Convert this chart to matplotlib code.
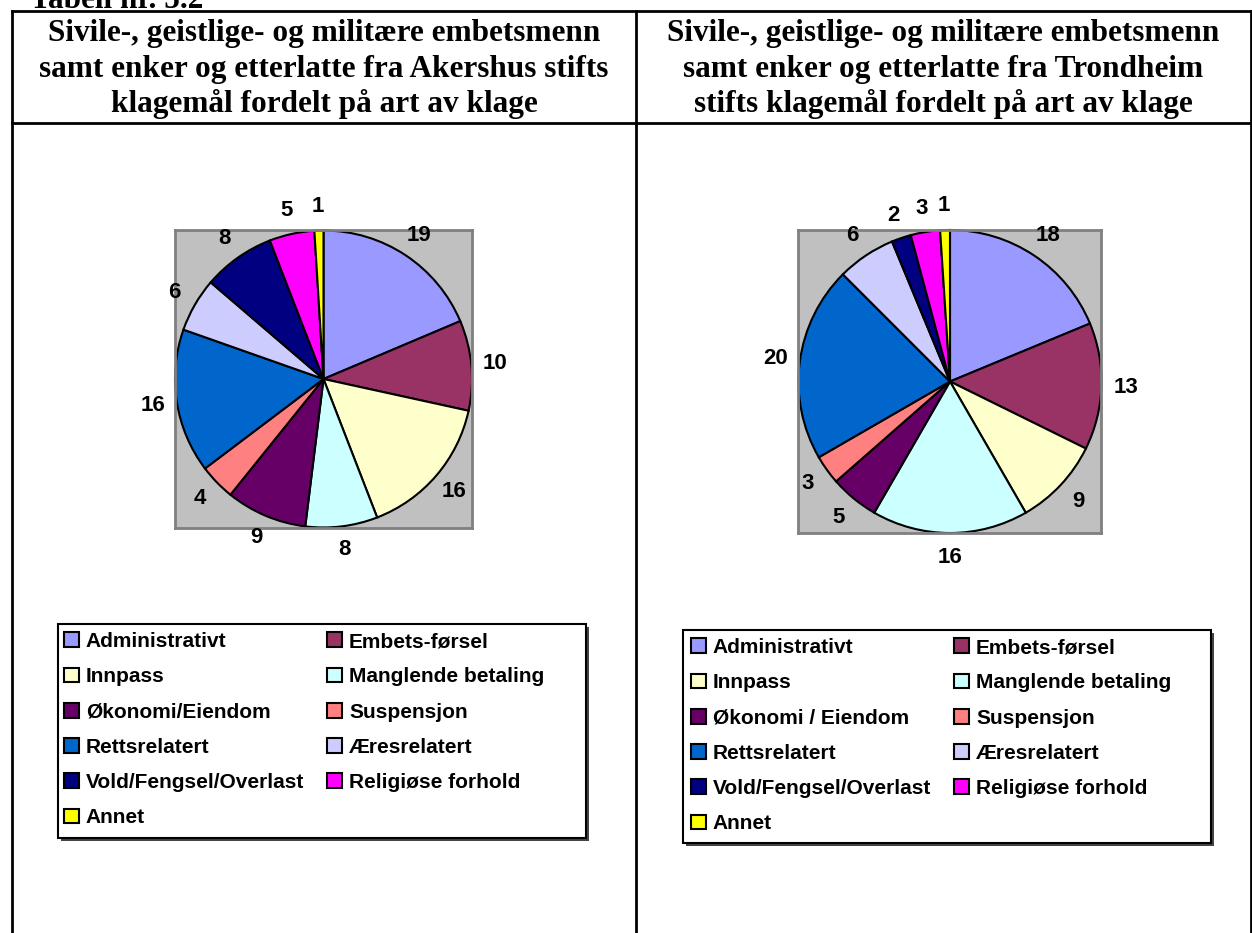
import matplotlib
matplotlib.use("Agg")
import matplotlib.pyplot as plt
from matplotlib.patches import Patch, Rectangle
from matplotlib.lines import Line2D

W, H = 1252, 933

# data
categories = ["Administrativt", "Embets-førsel", "Innpass", "Manglende betaling",
              "Økonomi/Eiendom", "Suspensjon", "Rettsrelatert", "Æresrelatert",
              "Vold/Fengsel/Overlast", "Religiøse forhold", "Annet"]
categories_right = ["Administrativt", "Embets-førsel", "Innpass", "Manglende betaling",
                    "Økonomi / Eiendom", "Suspensjon", "Rettsrelatert", "Æresrelatert",
                    "Vold/Fengsel/Overlast", "Religiøse forhold", "Annet"]
akershus = [19, 10, 16, 8, 9, 4, 16, 6, 8, 5, 1]
trondheim = [18, 13, 9, 16, 5, 3, 20, 6, 2, 3, 1]
colors = ["#9999FF", "#993366", "#FFFFCC", "#CCFFFF", "#660066", "#FF8080",
          "#0066CC", "#CCCCFF", "#000080", "#FF00FF", "#FFFF00"]

header_left = ["Sivile-, geistlige- og militære embetsmenn",
               "samt enker og etterlatte fra Akershus stifts",
               "klagemål fordelt på art av klage"]
header_right = ["Sivile-, geistlige- og militære embetsmenn",
                "samt enker og etterlatte fra Trondheim",
                "stifts klagemål fordelt på art av klage"]


def fx(x):
    return x / W


def fy(y):
    return 1 - y / H


fig = plt.figure(figsize=(W / 100, H / 100), dpi=100)

serif = "Liberation Serif"
sans = "Liberation Sans"

# table lines
line_kw = dict(color="black", linewidth=2, transform=fig.transFigure)
fig.add_artist(Line2D([fx(12), fx(1251)], [fy(11), fy(11)], **line_kw))
fig.add_artist(Line2D([fx(12), fx(1251)], [fy(123), fy(123)], **line_kw))
for xv in [12, 636, 1251]:
    fig.add_artist(Line2D([fx(xv), fx(xv)], [fy(11), fy(933)], **line_kw))

fig.text(fx(30), fy(8), "Tabell nr. 5.2", family=serif, weight="bold",
         fontsize=22.5, ha="left", va="baseline")

for i, (a, b) in enumerate(zip(header_left, header_right)):
    y = fy(34 + 35 * i)
    fig.text(fx(324), y, a, family=serif, weight="bold", fontsize=22.5,
             ha="center", va="center")
    fig.text(fx(943), y, b, family=serif, weight="bold", fontsize=22.5,
             ha="center", va="center")


def draw_pie(box, values):
    x0, y0, x1, y1 = box
    ax = fig.add_axes([fx(x0), fy(y1), (x1 - x0) / W, (y1 - y0) / H])
    wedges, texts = ax.pie(values, colors=colors, startangle=90, counterclock=False,
                           labels=[str(v) for v in values], labeldistance=1.16,
                           frame=True,
                           wedgeprops=dict(edgecolor="black", linewidth=1.5),
                           textprops=dict(family=sans, weight="bold", fontsize=16))
    for t in texts:
        t.set_clip_on(False)
        t.set_ha("center")
        t.set_va("center")
    ax.set_xlim(-1, 1)
    ax.set_ylim(-1, 1)
    ax.set_facecolor("#C0C0C0")
    ax.set_xticks([])
    ax.set_yticks([])
    for s in ax.spines.values():
        s.set_color("#808080")
        s.set_linewidth(2)


draw_pie((175, 230, 472, 528), akershus)
draw_pie((798, 230, 1102, 533), trondheim)


def draw_legend(box, labels, pad_left, pad_top):
    x0, y0, x1, y1 = box
    shadow = Rectangle((fx(x0 + 3), fy(y1 + 3)), (x1 - x0) / W, (y1 - y0) / H,
                       transform=fig.transFigure, facecolor="#444444",
                       edgecolor="none", zorder=1)
    frame = Rectangle((fx(x0), fy(y1)), (x1 - x0) / W, (y1 - y0) / H,
                      transform=fig.transFigure, facecolor="white",
                      edgecolor="black", linewidth=1.5, zorder=2)
    fig.add_artist(shadow)
    fig.add_artist(frame)
    handles = [Patch(facecolor=c, edgecolor="black", linewidth=1.5) for c in colors]
    order = [0, 2, 4, 6, 8, 10, 1, 3, 5, 7, 9]
    leg = fig.legend([handles[i] for i in order], [labels[i] for i in order],
                     loc="upper left", bbox_to_anchor=(fx(x0 + pad_left), fy(y0 + pad_top)),
                     ncol=2, frameon=False, borderpad=0, borderaxespad=0,
                     handlelength=0.7, handleheight=0.7, handletextpad=0.35,
                     columnspacing=1.1, labelspacing=0.78,
                     prop=dict(family=sans, weight="bold", size=15))
    leg.set_zorder(3)


draw_legend((58, 624, 586, 838), categories, 6, 8)
draw_legend((683, 630, 1211, 843), categories_right, 8, 8)

fig.savefig("out.png", dpi=100)
